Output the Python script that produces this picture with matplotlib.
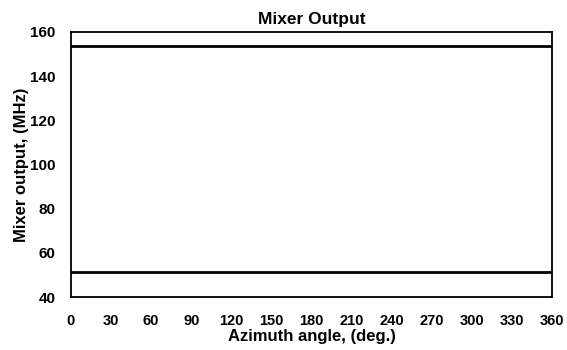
import numpy as np
import matplotlib
matplotlib.use("Agg")
import matplotlib.pyplot as plt

# Data
azimuth = [0, 90, 180, 270, 360]
upper_mhz = [153.6, 153.6, 153.6, 153.6, 153.6]
lower_mhz = [51.2, 51.2, 51.2, 51.2, 51.2]

x_ticks = list(range(0, 361, 30))
y_ticks = list(range(40, 161, 20))

plt.rcParams['font.family'] = ['Liberation Sans', 'DejaVu Sans']
plt.rcParams['font.weight'] = 'bold'

fig = plt.figure(figsize=(5.67, 3.5), dpi=100)
ax = fig.add_axes([0.125, 0.151, 0.849, 0.758])

ax.plot(azimuth, upper_mhz, color='black', lw=2.0)
ax.plot(azimuth, lower_mhz, color='black', lw=2.0)

ax.set_xlim(0, 360)
ax.set_ylim(40, 160)
ax.set_xticks(x_ticks)
ax.set_yticks(y_ticks)
ax.tick_params(axis='x', length=0, labelsize=10.5, pad=12)
ax.tick_params(axis='y', length=0, labelsize=11, pad=11)
for lbl in ax.get_xticklabels() + ax.get_yticklabels():
    lbl.set_fontweight('bold')
for s in ax.spines.values():
    s.set_linewidth(1.3)

ax.set_title('Mixer Output', fontsize=12.5, fontweight='bold', pad=6)
ax.set_xlabel('Azimuth angle, (deg.)', fontsize=12, fontweight='bold', labelpad=1)
ax.set_ylabel('Mixer output, (MHz)', fontsize=12, fontweight='bold', labelpad=1)

fig.savefig('out.png', dpi=100)
